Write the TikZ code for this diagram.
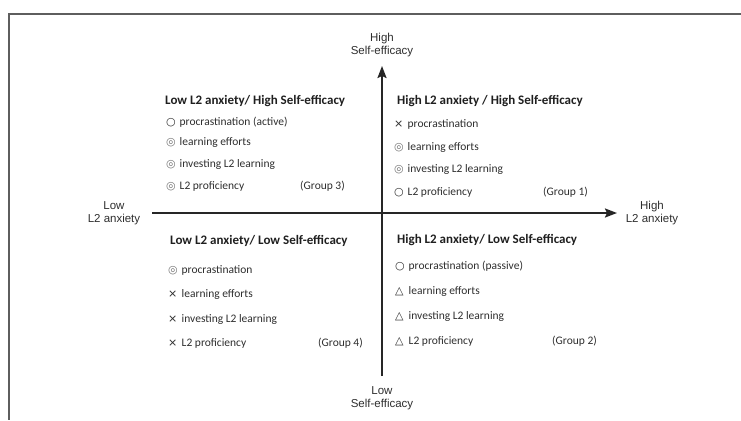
\documentclass[tikz,border=0pt]{standalone}
\usepackage{fontspec}
\setmainfont{Carlito}
\newfontfamily\axisfont{Liberation Sans}
\newfontfamily\symfont{DejaVu Sans}
\usetikzlibrary{arrows.meta}
\definecolor{txtgray}{HTML}{2E2E2E}
\definecolor{framegray}{HTML}{5E5E5E}
\newcommand{\mk}[1]{\makebox[13.5pt][l]{\symfont\fontsize{11}{12}\selectfont #1}}
\newcommand{\dbl}{\textcolor{black!55}{◎}}

\begin{document}
\begin{tikzpicture}[x=1pt,y=-1pt,
  axislabel/.style={font=\axisfont\fontsize{11.5}{13}\selectfont,align=center,text=txtgray,inner sep=0pt},
  quadtitle/.style={anchor=west,font=\bfseries\fontsize{13}{15}\selectfont,text=black!88,inner sep=0pt},
  item/.style={anchor=west,font=\fontsize{11.5}{13}\selectfont,text=txtgray,inner sep=0pt},
  axis/.style={line width=2pt,black!85,-{Stealth[length=12pt,width=9pt,inset=2pt]}}]
  \useasboundingbox (0,0) rectangle (741,420);
  \draw[framegray,line width=2.2pt] (741,14) -- (9,14) -- (9,420);

  % axes
  \node[axislabel] (ytop) at (382,45) {High\\Self-efficacy};
  \node[axislabel] (ybot) at (382,398) {Low\\Self-efficacy};
  \node[axislabel] (xlow) at (114,213) {Low\\L2 anxiety};
  \node[axislabel] (xhigh) at (652,213) {High\\L2 anxiety};
  \coordinate (ytip) at (382,66);
  \coordinate (yend) at (382,376);
  \coordinate (xtip) at (617,213);
  \coordinate (xend) at (152,213);
  \draw[axis] (yend) -- (ytip);
  \draw[axis] (xend) -- (xtip);

  % upper left
  \node[quadtitle] (tl0) at (165,101) {Low L2 anxiety/ High Self-efficacy};
  \node[item] (tl1) at (166,122) {\mk{○}procrastination (active)};
  \node[item] (tl2) at (166,142) {\mk{\dbl}learning efforts};
  \node[item] (tl3) at (166,164) {\mk{\dbl}investing L2 learning};
  \node[item] (tl4) at (166,186) {\mk{\dbl}L2 proficiency};
  \node[item] (tlg) at (300,186) {(Group 3)};

  % upper right
  \node[quadtitle] (tr0) at (397,101) {High L2 anxiety / High Self-efficacy};
  \node[item] (tr1) at (394,124) {\mk{×}procrastination};
  \node[item] (tr2) at (394,147) {\mk{\dbl}learning efforts};
  \node[item] (tr3) at (394,169) {\mk{\dbl}investing L2 learning};
  \node[item] (tr4) at (394,192) {\mk{○}L2 proficiency};
  \node[item] (trg) at (543,192) {(Group 1)};

  % lower left
  \node[quadtitle] (bl0) at (170,241) {Low L2 anxiety/ Low Self-efficacy};
  \node[item] (bl1) at (168,270) {\mk{\dbl}procrastination};
  \node[item] (bl2) at (168,294) {\mk{×}learning efforts};
  \node[item] (bl3) at (168,319) {\mk{×}investing L2 learning};
  \node[item] (bl4) at (168,343) {\mk{×}L2 proficiency};
  \node[item] (blg) at (318,343) {(Group 4)};

  % lower right
  \node[quadtitle] (br0) at (397,240) {High L2 anxiety/ Low Self-efficacy};
  \node[item] (br1) at (395,266) {\mk{○}procrastination (passive)};
  \node[item] (br2) at (395,291) {\mk{△}learning efforts};
  \node[item] (br3) at (395,316) {\mk{△}investing L2 learning};
  \node[item] (br4) at (395,341) {\mk{△}L2 proficiency};
  \node[item] (brg) at (552,341) {(Group 2)};
\end{tikzpicture}
\end{document}
